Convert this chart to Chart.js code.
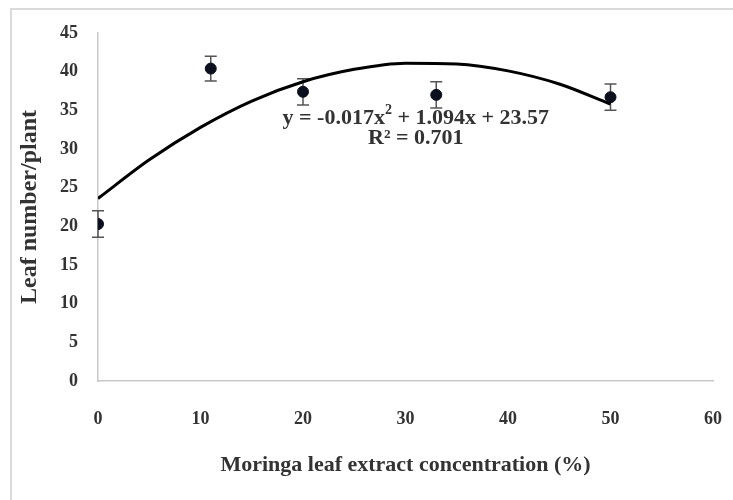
<!DOCTYPE html>
<html lang="en">
<head>
  <meta charset="UTF-8" />
  <title>Leaf number vs Moringa leaf extract</title>
  <script src="https://cdn.jsdelivr.net/npm/chart.js"></script>
  <style>
    html, body { margin: 0; padding: 0; background: #fff; overflow: hidden; }
    .wrap { position: relative; width: 733px; height: 500px; }
    .frame { position: absolute; left: 10px; top: 8px; width: 740px; height: 510px; border-left: 2px solid #dadada; border-top: 2px solid #dadada; }
    canvas { position: absolute; left: 0; top: 0; }
  </style>
</head>
<body>
  <div class="wrap">
    <div class="frame"></div>
    <canvas id="leafChart" width="733" height="500"></canvas>
  </div>
  <script>
    // measured points
    const concentration = [0, 11, 20, 33, 50];
    const leafNumber = [20.3, 40.4, 37.4, 37.0, 36.7];
    const leafError = [1.7, 1.6, 1.7, 1.7, 1.7];

    // polynomial trendline
    const trendX = [0, 5, 10, 15, 20, 25, 30, 35, 40, 45, 50];
    const trendY = [23.6, 28.6, 32.8, 36.2, 38.7, 40.3, 41.1, 41.0, 40.1, 38.4, 35.8];

    const equationLines = ['y = -0.017x', '2', ' + 1.094x + 23.57'];
    const rSquaredText = 'R² = 0.701';
    const labelAt = { x: 31, y: 34 };

    const serif = "'Liberation Serif', 'Times New Roman', serif";

    const errorBars = {
      id: 'errorBars',
      beforeDatasetsDraw(chart) {
        const { ctx, scales: { x, y } } = chart;
        ctx.save();
        ctx.strokeStyle = '#555';
        ctx.lineWidth = 1.5;
        concentration.forEach((c, i) => {
          const px = x.getPixelForValue(c);
          const top = y.getPixelForValue(leafNumber[i] + leafError[i]);
          const bot = y.getPixelForValue(leafNumber[i] - leafError[i]);
          ctx.beginPath();
          ctx.moveTo(px, top); ctx.lineTo(px, bot);
          ctx.moveTo(px - 6, top); ctx.lineTo(px + 6, top);
          ctx.moveTo(px - 6, bot); ctx.lineTo(px + 6, bot);
          ctx.stroke();
        });
        ctx.restore();
      }
    };

    const equationLabel = {
      id: 'equationLabel',
      afterDraw(chart) {
        const { ctx, scales: { x, y } } = chart;
        const cx = x.getPixelForValue(labelAt.x);
        const cy = y.getPixelForValue(labelAt.y);
        ctx.save();
        ctx.fillStyle = '#333';
        ctx.textBaseline = 'middle';
        const big = 'bold 22px ' + serif, small = 'bold 14px ' + serif;
        ctx.font = big;
        const w1 = ctx.measureText(equationLines[0]).width;
        const w3 = ctx.measureText(equationLines[2]).width;
        ctx.font = small;
        const w2 = ctx.measureText(equationLines[1]).width;
        let sx = cx - (w1 + w2 + w3) / 2;
        ctx.font = big;
        ctx.textAlign = 'left';
        ctx.fillText(equationLines[0], sx, cy);
        ctx.font = small;
        ctx.fillText(equationLines[1], sx + w1, cy - 8);
        ctx.font = big;
        ctx.fillText(equationLines[2], sx + w1 + w2, cy);
        ctx.textAlign = 'center';
        ctx.fillText(rSquaredText, cx, cy + 20);
        ctx.restore();
      }
    };

    new Chart(document.getElementById('leafChart'), {
      type: 'scatter',
      data: {
        datasets: [
          {
            label: 'Trend',
            type: 'line',
            data: trendX.map((v, i) => ({ x: v, y: trendY[i] })),
            borderColor: '#000',
            borderWidth: 3,
            pointRadius: 0,
            fill: false,
            cubicInterpolationMode: 'monotone'
          },
          {
            label: 'Leaf number',
            data: concentration.map((v, i) => ({ x: v, y: leafNumber[i] })),
            backgroundColor: '#0b0f1e',
            borderColor: '#0b0f1e',
            pointRadius: 5.5
          }
        ]
      },
      options: {
        responsive: false,
        animation: false,
        layout: { padding: { top: 33, right: 20, left: 0, bottom: 0 } },
        plugins: { legend: { display: false }, tooltip: { enabled: false } },
        scales: {
          x: {
            type: 'linear',
            min: 0, max: 60,
            afterFit: s => { s.height = 119; s.paddingLeft = 0; s.paddingRight = 0; },
            ticks: { stepSize: 10, padding: 28, color: '#333', font: { family: serif, size: 18, weight: 'bold' } },
            grid: { display: false, drawTicks: false },
            border: { display: true, color: '#c8c8c8', width: 1.5 },
            title: {
              display: true,
              text: 'Moringa leaf extract concentration (%)',
              color: '#333',
              font: { family: serif, size: 22, weight: 'bold' },
              padding: { top: 0, bottom: 21 }
            }
          },
          y: {
            min: 0, max: 45,
            afterFit: s => { s.width = 98; },
            ticks: { stepSize: 5, padding: 20, color: '#333', font: { family: serif, size: 18, weight: 'bold' } },
            grid: { display: false, drawTicks: false },
            border: { display: true, color: '#c8c8c8', width: 1.5 },
            title: {
              display: true,
              text: 'Leaf number/plant',
              color: '#333',
              font: { family: serif, size: 24, weight: 'bold' },
              padding: { top: 15, bottom: 0 }
            }
          }
        }
      },
      plugins: [errorBars, equationLabel]
    });
  </script>
</body>
</html>
